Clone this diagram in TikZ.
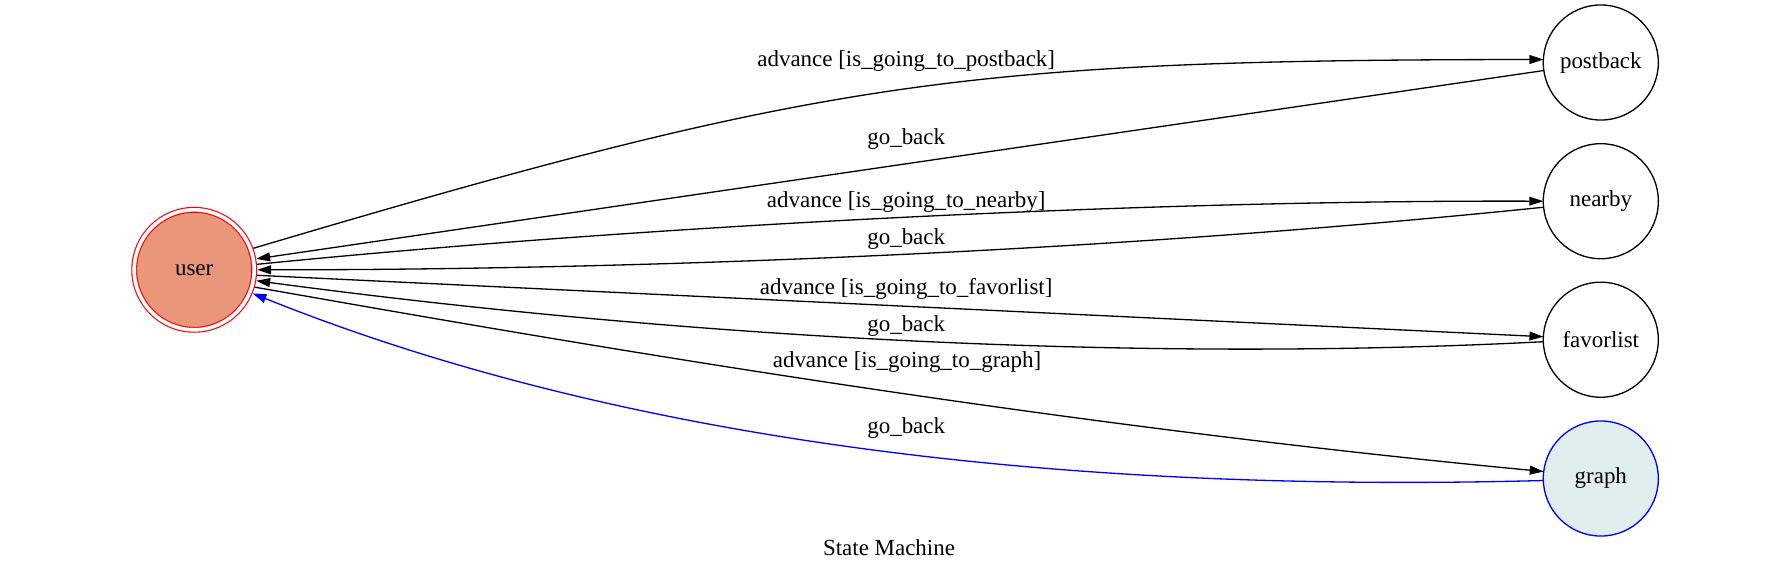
\documentclass[tikz,border=0pt]{standalone}
\usepackage{fontspec}
\setmainfont{Liberation Serif}
\usetikzlibrary{arrows.meta}

\definecolor{usersalmon}{HTML}{E9967A}
\definecolor{graphmint}{HTML}{E0EEEE}

\begin{document}
\begin{tikzpicture}[
            x=0.61pt, y=-0.61pt,
            state/.style={draw, circle, minimum size=70.2pt, inner sep=0pt, outer sep=0pt, line width=0.8pt, font=\fontsize{14pt}{17pt}\selectfont},
            homestate/.style={state, minimum size=73.2pt, draw=red, double=white, double distance=2.2pt, line width=0.7pt, fill=usersalmon, outer sep=1.8pt},
            trans/.style={-{Triangle[length=8.5pt, width=5.4pt]}, line width=0.8pt},
            lbl/.style={anchor=base, font=\fontsize{14pt}{17pt}\selectfont}
        ]
        \useasboundingbox (0,0) rectangle (1780,572);

        % Nodes
        \node[homestate] (user) at (194.2,269.8) {user};
        \node[state] (postback) at (1600.8,62.5) {postback};
        \node[state] (nearby) at (1600.8,201.2) {nearby};
        \node[state] (favorlist) at (1600.8,339.7) {favorlist};
        \node[state, draw=blue, fill=graphmint] (graph) at (1600.8,478.5) {graph};

        % Arrows
        \draw[trans] (user.20.7) .. controls (820,80) and (960,60) .. (postback.177.5)
            node[lbl] at (906.2,66.7) {advance [is\_going\_to\_postback]};
        \draw[trans] (postback.188.4) -- (user.10)
            node[lbl] at (906.2,144) {go\_back};
        \draw[trans] (user.5.4) .. controls (650,225) and (1150,200) .. (nearby.180.8)
            node[lbl] at (906.2,207.3) {advance [is\_going\_to\_nearby]};
        \draw[trans] (nearby.186.7) .. controls (1080,255) and (600,270) .. (user.0)
            node[lbl] at (906.2,244) {go\_back};
        \draw[trans] (user.-5.7) -- (favorlist.177.3)
            node[lbl] at (906.2,294) {advance [is\_going\_to\_favorlist]};
        \draw[trans] (favorlist.182.3) .. controls (1150,362) and (700,340) .. (user.-10.4)
            node[lbl] at (906.2,331.7) {go\_back};
        \draw[trans] (user.-16.3) .. controls (500,330) and (1000,420) .. (graph.173.5)
            node[lbl] at (907,367.3) {advance [is\_going\_to\_graph]};
        \draw[trans, blue] (graph.182.5) .. controls (1000,495) and (580,425) .. (user.-22.2)
            node[lbl, black] at (906.2,433.3) {go\_back};

        % Title
        \node[lbl] (title) at (889,555.3) {State Machine};

    \end{tikzpicture}
\end{document}
